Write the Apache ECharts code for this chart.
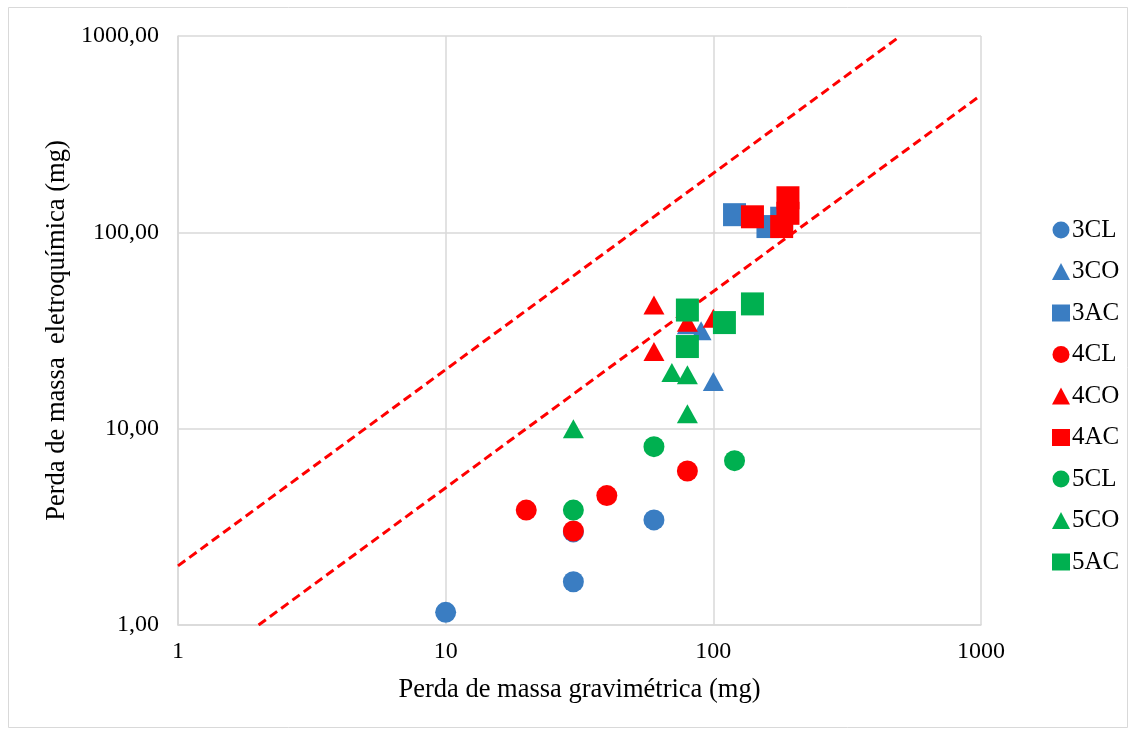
<!DOCTYPE html>
<html><head><meta charset="utf-8">
<script src="https://cdn.jsdelivr.net/npm/echarts@6/dist/echarts.min.js"></script>
<style>html,body{margin:0;padding:0;background:#fff}#c{width:1136px;height:734px}</style>
</head><body><div id="c"></div>
<script>
const xTicks = [1, 10, 100, 1000];
const yTicks = [1, 10, 100, 1000];
const s3CL = [[10, 1.16], [30, 1.66], [30, 2.98], [60, 3.43]];
const s3CO = [[90, 31.5], [100, 17.4], [80, 33.8]];
const s3AC = [[120, 123], [160, 107], [180, 118]];
const s4CL = [[20, 3.85], [30, 3.01], [40, 4.56], [80, 6.09]];
const s4CO = [[60, 42.7], [60, 24.7], [80, 34.8], [100, 36.5]];
const s4AC = [[140, 120], [190, 150], [190, 125], [180, 107]];
const s5CL = [[30, 3.85], [60, 8.1], [120, 6.87]];
const s5CO = [[30, 10], [80, 11.9], [70, 19.3], [80, 18.8]];
const s5AC = [[80, 40.2], [80, 26.2], [110, 34.7], [140, 43.2]];
const lineUpper = [[1, 2], [500, 1000]];
const lineLower = [[2, 1], [1000, 500]];

const BLUE = '#3A7DC2', RED = '#FF0000', GREEN = '#00B050';
const FONT = '"Liberation Serif", "Times New Roman", serif';
function sc(name, data, color, symbol, size) {
  return {name, type: 'scatter', data, symbol, symbolSize: size,
    itemStyle: {color, opacity: 1}, emphasis: {disabled: true}};
}
function ln(data) {
  return {type: 'line', data, symbol: 'none', silent: true,
    lineStyle: {color: RED, width: 3, type: [9, 5]}, z: 1};
}
const chart = echarts.init(document.getElementById('c'), null, {renderer: 'canvas'});
chart.setOption({
  animation: false,
  backgroundColor: '#fff',
  graphic: [{type: 'rect', shape: {x: 8.5, y: 7.5, width: 1119, height: 720},
    style: {fill: 'none', stroke: '#d9d9d9', lineWidth: 1}, z: -10}],
  grid: {left: 178, right: 155, top: 36, bottom: 109},
  xAxis: {type: 'log', logBase: 10, min: xTicks[0], max: xTicks[xTicks.length - 1],
    name: 'Perda de massa gravimétrica (mg)', nameLocation: 'middle', nameGap: 52,
    nameTextStyle: {fontFamily: FONT, fontSize: 26.5, color: '#000'},
    axisLine: {lineStyle: {color: '#d9d9d9', width: 1.5}}, axisTick: {show: false},
    axisLabel: {fontFamily: FONT, fontSize: 24, color: '#000', margin: 15,
      formatter: v => String(Math.round(v))},
    splitLine: {show: true, lineStyle: {color: '#d9d9d9', width: 1.5}}},
  yAxis: {type: 'log', logBase: 10, min: yTicks[0], max: yTicks[yTicks.length - 1],
    name: 'Perda de massa  eletroquímica (mg)', nameLocation: 'middle', nameGap: 106,
    nameTextStyle: {fontFamily: FONT, fontSize: 26.5, color: '#000'},
    axisLine: {show: true, lineStyle: {color: '#d9d9d9', width: 1.5}}, axisTick: {show: false},
    axisLabel: {fontFamily: FONT, fontSize: 24, color: '#000', margin: 19,
      formatter: v => Number(v).toFixed(2).replace('.', ',')},
    splitLine: {show: true, lineStyle: {color: '#d9d9d9', width: 1.5}}},
  legend: {orient: 'vertical', left: 1052, top: 217.5, padding: 0, itemWidth: 18, itemHeight: 17,
    itemGap: 16.5, textStyle: {fontFamily: FONT, fontSize: 25, color: '#000', lineHeight: 25, padding: [0, 0, 0, -3]},
    data: [
      {name: '3CL', icon: 'circle'}, {name: '3CO', icon: 'triangle'}, {name: '3AC', icon: 'rect'},
      {name: '4CL', icon: 'circle'}, {name: '4CO', icon: 'triangle'}, {name: '4AC', icon: 'rect'},
      {name: '5CL', icon: 'circle'}, {name: '5CO', icon: 'triangle'}, {name: '5AC', icon: 'rect'}]},
  series: [
    ln(lineUpper), ln(lineLower),
    sc('3CL', s3CL, BLUE, 'circle', 21),
    sc('3CO', s3CO, BLUE, 'triangle', [21, 19]),
    sc('3AC', s3AC, BLUE, 'rect', 23),
    sc('4CL', s4CL, RED, 'circle', 21),
    sc('4CO', s4CO, RED, 'triangle', [21, 19]),
    sc('4AC', s4AC, RED, 'rect', 23),
    sc('5CL', s5CL, GREEN, 'circle', 21),
    sc('5CO', s5CO, GREEN, 'triangle', [21, 19]),
    sc('5AC', s5AC, GREEN, 'rect', 23)
  ]
});
</script></body></html>
